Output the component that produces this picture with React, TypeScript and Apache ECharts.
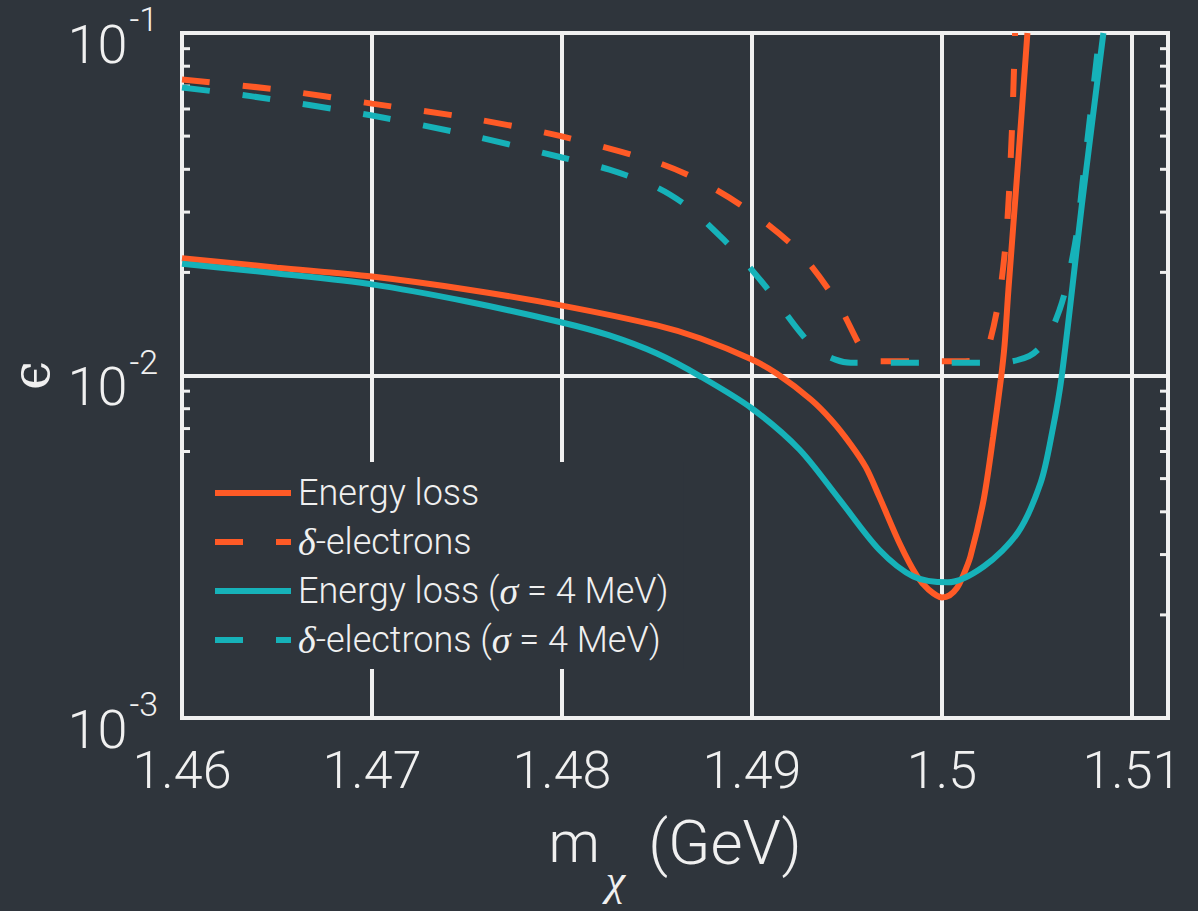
import React, { useEffect, useRef } from "react";
import * as echarts from "echarts";

// ---- data ----
const energyLossM = [1.46, 1.465, 1.47, 1.475, 1.48, 1.485, 1.4873, 1.49, 1.4913, 1.4931, 1.4942, 1.4952, 1.496, 1.4967, 1.4978, 1.4987, 1.4993, 1.5, 1.5004, 1.5008, 1.5011, 1.5015, 1.5022, 1.5027, 1.5031, 1.5033, 1.5035, 1.504, 1.5045];
const energyLossE = [0.022, 0.02065, 0.01945, 0.01783, 0.016, 0.014, 0.01282, 0.01113, 0.01013, 0.00851, 0.00739, 0.00629, 0.00539, 0.00443, 0.00321, 0.00259, 0.00237, 0.00225, 0.00228, 0.0024, 0.00259, 0.00296, 0.00435, 0.00664, 0.00973, 0.01232, 0.0178, 0.0413, 0.1];

const deltaM = [1.46, 1.465, 1.47, 1.475, 1.48, 1.485, 1.4873, 1.49, 1.4925, 1.4945, 1.4958, 1.4964, 1.4985, 1.501, 1.502, 1.5024, 1.503, 1.5034, 1.50368, 1.50385];
const deltaE = [0.0731, 0.0684, 0.0622, 0.0566, 0.0499, 0.0419, 0.0369, 0.0299, 0.0229, 0.0163, 0.0119, 0.011, 0.011, 0.011, 0.0112, 0.0119, 0.0167, 0.0261, 0.0512, 0.1];

const energyLossSigmaM = [1.46, 1.465, 1.47, 1.475, 1.48, 1.4825, 1.485, 1.4873, 1.49, 1.4925, 1.4946, 1.4967, 1.4985, 1.5003, 1.5022, 1.504, 1.5052, 1.5058, 1.5063, 1.5074, 1.5085];
const energyLossSigmaE = [0.0212, 0.01985, 0.01845, 0.01644, 0.01428, 0.01309, 0.01159, 0.00993, 0.00801, 0.00608, 0.00435, 0.0031, 0.00259, 0.00249, 0.00277, 0.00348, 0.00487, 0.00682, 0.0099, 0.0326, 0.1];

const deltaSigmaM = [1.46, 1.4637, 1.47, 1.475, 1.48, 1.4825, 1.485, 1.4867, 1.4883, 1.4894, 1.4908, 1.4925, 1.4934, 1.4944, 1.4952, 1.5, 1.503, 1.5046, 1.5055, 1.5062, 1.5066, 1.5071, 1.5074, 1.5078, 1.5083];
const deltaSigmaE = [0.0693, 0.0653, 0.0574, 0.0505, 0.0433, 0.0399, 0.0354, 0.0309, 0.0256, 0.0222, 0.01795, 0.01345, 0.0119, 0.01113, 0.0109, 0.0109, 0.0109, 0.0114, 0.01274, 0.0156, 0.0187, 0.0261, 0.0366, 0.057, 0.1];

const seriesNames = ["Energy loss", "δ-electrons", "Energy loss (σ = 4 MeV)", "δ-electrons (σ = 4 MeV)"];
const minorTickValues = [0.002, 0.003, 0.004, 0.005, 0.006, 0.007, 0.008, 0.009, 0.02, 0.03, 0.04, 0.05, 0.06, 0.07, 0.08, 0.09];

const xMin = 1.46;
const xMax = 1.5119;

const ORANGE = "#ff5a26";
const TEAL = "#16b2b9";
const BG = "#2f353c";
const FG = "#f0f0f0";
const FONT = "Roboto, 'Liberation Sans', Arial, sans-serif";
const SERIF = "'Liberation Serif', 'DejaVu Serif', serif";
const LW = 6;

const zip = (a: number[], b: number[]) => a.map((v, i) => [v, b[i]]);

export default function App() {
  const ref = useRef<HTMLDivElement>(null);
  useEffect(() => {
    if (!ref.current) return;
    const chart = echarts.init(ref.current, undefined, { renderer: "svg" });
    const legendFormat = (name: string) =>
      name.replace(/δ/g, "{g|δ}").replace(/σ/g, "{g|σ}");
    const lineSeries = (name: string, m: number[], e: number[], color: string, dashed: boolean) => ({
      name,
      type: "line",
      data: zip(m, e),
      showSymbol: false,
      symbol: "none",
      smooth: 0.3,
      lineStyle: { color, width: LW, type: dashed ? [28, 33] : "solid" },
      itemStyle: { color },
      z: 5,
    });
    chart.setOption({
      animation: false,
      backgroundColor: BG,
      textStyle: { fontFamily: FONT },
      grid: {
        left: 182,
        right: 30,
        top: 33,
        bottom: 193,
        outerBoundsMode: "none",
        containLabel: false,
        show: true,
        borderColor: FG,
        borderWidth: 4,
        backgroundColor: "transparent",
      },
      legend: {
        data: seriesNames,
        orient: "vertical",
        left: 184,
        top: 462,
        padding: [12, 15, 10, 28],
        itemGap: 11,
        itemWidth: 76,
        itemHeight: 20,
        backgroundColor: BG,
        selectedMode: false,
        formatter: legendFormat,
        itemStyle: { opacity: 0 },
        lineStyle: { width: LW },
        textStyle: {
          color: FG,
          fontSize: 36,
          fontWeight: 300,
          fontFamily: FONT,
          lineHeight: 38,
          padding: [0, 0, 0, 2],
          rich: {
            g: { fontFamily: SERIF, fontStyle: "italic", fontSize: 38, color: FG, lineHeight: 38 },
          },
        },
      },
      xAxis: {
        type: "value",
        min: xMin,
        max: xMax,
        interval: 0.01,
        name: "{m|m}{c|χ}{g| (GeV)}",
        nameLocation: "middle",
        nameGap: 107,
        nameTextStyle: {
          color: FG,
          rich: {
            m: { fontSize: 58, fontWeight: 300, fontFamily: FONT, color: FG, lineHeight: 64, padding: [0, 6, 30, 0] },
            c: { fontSize: 44, fontStyle: "italic", fontFamily: SERIF, color: FG, lineHeight: 44, padding: [48, 8, 2, 0] },
            g: { fontSize: 62, fontWeight: 300, fontFamily: FONT, color: FG, lineHeight: 64, padding: [0, 0, 30, 0] },
          },
        },
        axisLine: { show: false },
        axisTick: { show: false },
        axisLabel: {
          color: FG,
          fontSize: 52,
          fontWeight: 300,
          fontFamily: FONT,
          margin: 26,
          showMaxLabel: false,
          formatter: (v: number) =>
            Math.abs(v * 100 - Math.round(v * 100)) < 1e-6 ? String(Number(v.toFixed(2))) : "",
        },
        splitLine: { show: true, lineStyle: { color: FG, width: 4 } },
      },
      yAxis: {
        type: "log",
        logBase: 10,
        min: 0.001,
        max: 0.1,
        name: "ϵ",
        nameLocation: "middle",
        nameGap: 112,
        nameTextStyle: { color: FG, fontSize: 52, lineHeight: 44, fontFamily: "'DejaVu Serif', serif" },
        axisLine: { show: false },
        axisTick: { show: false },
        axisLabel: {
          color: FG,
          margin: 24,
          formatter: (v: number) => `{b|10}{s|${Math.round(Math.log10(v))}}`,
          rich: {
            b: { fontSize: 54, fontWeight: 300, fontFamily: FONT, color: FG, lineHeight: 60, padding: [22, 0, 0, 0] },
            s: { fontSize: 34, fontWeight: 300, fontFamily: FONT, color: FG, lineHeight: 22, padding: [16, 0, 44, 2] },
          },
        },
        splitLine: { show: true, lineStyle: { color: FG, width: 4 } },
      },
      series: [
        lineSeries(seriesNames[0], energyLossM, energyLossE, ORANGE, false),
        lineSeries(seriesNames[1], deltaM, deltaE, ORANGE, true),
        lineSeries(seriesNames[2], energyLossSigmaM, energyLossSigmaE, TEAL, false),
        lineSeries(seriesNames[3], deltaSigmaM, deltaSigmaE, TEAL, true),
        {
          name: "minorTicks",
          type: "custom",
          silent: true,
          clip: false,
          z: 3,
          data: minorTickValues.map((v) => [xMin, v]),
          renderItem: (params: any, api: any) => {
            const cs = params.coordSys;
            const y = api.coord([xMin, api.value(1)])[1];
            const st = { stroke: FG, lineWidth: 3 };
            return {
              type: "group",
              children: [
                { type: "line", shape: { x1: cs.x, y1: y, x2: cs.x + 8, y2: y }, style: st },
                { type: "line", shape: { x1: cs.x + cs.width - 8, y1: y, x2: cs.x + cs.width, y2: y }, style: st },
              ],
            };
          },
        },
      ],
    });
    return () => chart.dispose();
  }, []);
  return (
    <div
      ref={ref}
      style={{ position: "fixed", left: 0, top: 0, width: 1198, height: 911 }}
    />
  );
}
